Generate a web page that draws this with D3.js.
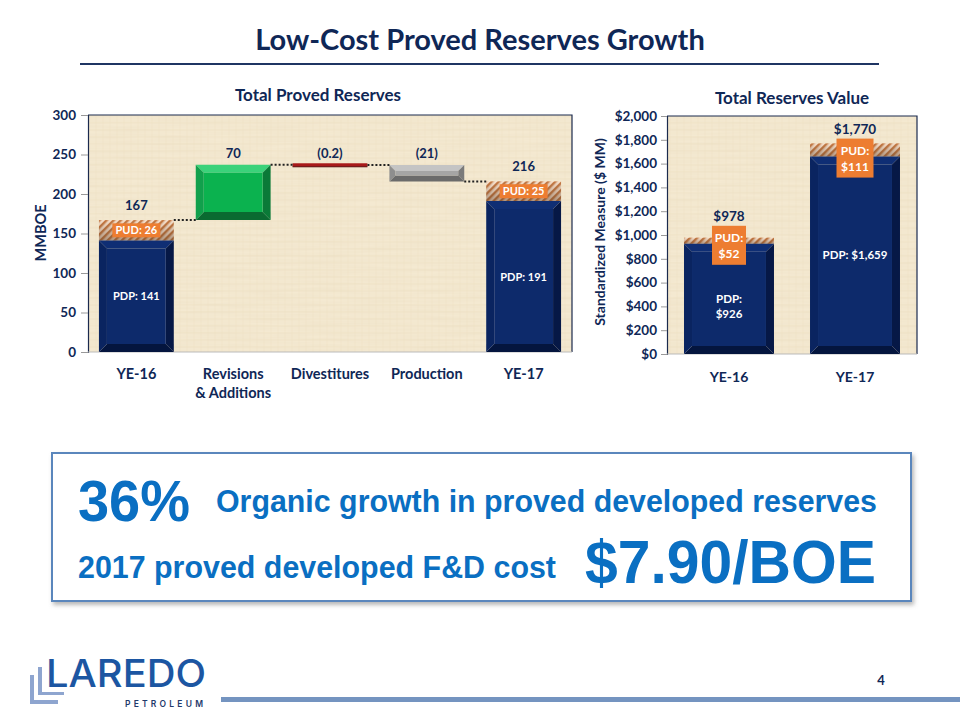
<!DOCTYPE html>
<html><head><meta charset="utf-8">
<script src="https://cdn.jsdelivr.net/npm/d3@7"></script>
<style>html,body{margin:0;padding:0;background:#fff;}svg{display:block;}</style>
</head><body>
<script>
// ---------------- DATA ----------------
const wfCategories = ["YE-16", "Revisions|& Additions", "Divestitures", "Production", "YE-17"];
const wfKinds = ["total", "up", "down", "down", "total"];
const wfPDP = [141, null, null, null, 191];
const wfPUD = [26, null, null, null, 25];
const wfChanges = [null, 70, -0.2, -21, null];
const wfValueLabels = ["167", "70", "(0.2)", "(21)", "216"];
const wfTicks = [0, 50, 100, 150, 200, 250, 300];

const valCategories = ["YE-16", "YE-17"];
const valPDP = [926, 1659];
const valPUD = [52, 111];
const valTotalLabels = ["$978", "$1,770"];
const valPDPLabels = [["PDP:", "$926"], ["PDP: $1,659"]];
const valPUDLabels = [["PUD:", "$52"], ["PUD:", "$111"]];
const valTicks = [0, 200, 400, 600, 800, 1000, 1200, 1400, 1600, 1800, 2000];

// ---------------- SETUP ----------------
const W = 960, H = 720;
const NAVY = "#0F2756";
const FONT = "Lato, 'Open Sans', sans-serif";
const svg = d3.select("body").append("svg").attr("width", W).attr("height", H)
  .style("font-family", FONT);
svg.append("rect").attr("width", W).attr("height", H).attr("fill", "#fff");

const defs = svg.append("defs");
// parchment texture
const tex = defs.append("pattern").attr("id", "tex").attr("patternUnits", "userSpaceOnUse")
  .attr("width", 14).attr("height", 14);
tex.append("rect").attr("width", 14).attr("height", 14).attr("fill", "#F4E9D1");
tex.append("path").attr("d", "M0 4H14M0 11H14").attr("stroke", "#E8D9B9").attr("stroke-width", 1).attr("opacity", 0.35);
tex.append("path").attr("d", "M5 0V14M12 0V14").attr("stroke", "#EADCC0").attr("stroke-width", 1).attr("opacity", 0.3);
const turb = defs.append("filter").attr("id", "grain").attr("x", 0).attr("y", 0).attr("width", "100%").attr("height", "100%");
turb.append("feTurbulence").attr("type", "fractalNoise").attr("baseFrequency", "0.02 0.35").attr("numOctaves", 2).attr("seed", 3);
turb.append("feColorMatrix").attr("type", "matrix")
  .attr("values", "0 0 0 0 0.72  0 0 0 0 0.62  0 0 0 0 0.42  0 0 0 0.22 -0.05");
// hatch pattern
const hatch = defs.append("pattern").attr("id", "hatch").attr("patternUnits", "userSpaceOnUse")
  .attr("width", 5).attr("height", 5).attr("patternTransform", "rotate(45)");
hatch.append("rect").attr("width", 5).attr("height", 5).attr("fill", "#F7E0CC");
hatch.append("rect").attr("width", 2.4).attr("height", 5).attr("fill", "#C57A45");
const hg = defs.append("linearGradient").attr("id", "hshade").attr("x1", 0).attr("y1", 0).attr("x2", 0).attr("y2", 1);
hg.append("stop").attr("offset", "0").attr("stop-color", "#5a3a20").attr("stop-opacity", 0);
hg.append("stop").attr("offset", "1").attr("stop-color", "#5a3a20").attr("stop-opacity", 0.45);
const shadow = defs.append("filter").attr("id", "shadow").attr("x", "-5%").attr("y", "-10%").attr("width", "110%").attr("height", "130%");
shadow.append("feDropShadow").attr("dx", 2).attr("dy", 3).attr("stdDeviation", 2).attr("flood-color", "#888").attr("flood-opacity", 0.6);

function bevel(g, x, y, w, h, c, b) {
  b = Math.min(b, h / 2, w / 2);
  const o = [[x, y], [x + w, y], [x + w, y + h], [x, y + h]];
  const i = [[x + b, y + b], [x + w - b, y + b], [x + w - b, y + h - b], [x + b, y + h - b]];
  const p = pts => "M" + pts.map(q => q.join(",")).join("L") + "Z";
  g.append("path").attr("d", p([o[0], o[1], i[1], i[0]])).attr("fill", c.top);
  g.append("path").attr("d", p([o[1], o[2], i[2], i[1]])).attr("fill", c.right);
  g.append("path").attr("d", p([o[2], o[3], i[3], i[2]])).attr("fill", c.bottom);
  g.append("path").attr("d", p([o[3], o[0], i[0], i[3]])).attr("fill", c.left);
  g.append("path").attr("d", p(i)).attr("fill", c.face);
}
const navyC = {face: "#0D2A6B", top: "#0F2E74", left: "#0A2460", right: "#061846", bottom: "#04153E"};
const greenC = {face: "#0BB24F", top: "#3BD27A", left: "#11A04C", right: "#0A7A38", bottom: "#0A6A31"};
const greyC = {face: "#A5A5A5", top: "#C4C4C4", left: "#8E8E8E", right: "#7A7A7A", bottom: "#6B6B6B"};

function plotBg(g, P) {
  g.append("rect").attr("x", P.l).attr("y", P.t).attr("width", P.r - P.l).attr("height", P.b - P.t).attr("fill", "url(#tex)");
  g.append("rect").attr("x", P.l).attr("y", P.t).attr("width", P.r - P.l).attr("height", P.b - P.t).attr("filter", "url(#grain)");
}

// ---------------- TITLE ----------------
svg.append("text").attr("x", 480).attr("y", 50).attr("text-anchor", "middle")
  .attr("font-size", 29).attr("font-weight", 700).attr("fill", NAVY).text("Low-Cost Proved Reserves Growth");
svg.append("line").attr("x1", 80).attr("x2", 879).attr("y1", 64).attr("y2", 64)
  .attr("stroke", "#1F3563").attr("stroke-width", 2);

// ---------------- LEFT: WATERFALL ----------------
const L = {l: 88, r: 572, t: 115, b: 352};
const yL = d3.scaleLinear().domain([0, 300]).range([L.b, L.t]);
const xL = d3.scaleBand().domain(wfCategories).range([L.l, L.r]).paddingInner(0.227).paddingOuter(0.113);
const gl = svg.append("g");
plotBg(gl, L);
gl.append("path").attr("d", `M${L.l},${L.t}H${L.r}V${L.b}`).attr("fill", "none").attr("stroke", "#1B2A4E").attr("stroke-width", 1.2);

const yAxL = d3.axisLeft(yL).tickValues(wfTicks).tickSize(7).tickPadding(5);
const yaL = gl.append("g").attr("transform", `translate(${L.l},0)`).call(yAxL);
yaL.select(".domain").attr("stroke", "#1B2A4E").attr("stroke-width", 1.2);
yaL.selectAll(".tick line").attr("stroke", "#999");
yaL.selectAll(".tick text").attr("font-size", 13.5).attr("font-weight", 700).attr("fill", NAVY).attr("font-family", FONT);
gl.append("line").attr("x1", L.l).attr("x2", L.r).attr("y1", L.b).attr("y2", L.b).attr("stroke", "#BBB").attr("stroke-width", 1.2);

// waterfall computation
let running = 0;
const wf = wfCategories.map((c, i) => {
  let lo, hi;
  if (wfKinds[i] === "total") {
    lo = 0; hi = wfPDP[i] + wfPUD[i]; running = hi;
  } else {
    const s = running, e = running + wfChanges[i];
    lo = Math.min(s, e); hi = Math.max(s, e); running = e;
  }
  return {c, i, lo, hi, kind: wfKinds[i]};
});
const bw = xL.bandwidth();
wf.forEach((d, i) => {
  const x = xL(d.c);
  if (d.kind === "total") {
    const yp = yL(wfPDP[i]), yt = yL(d.hi);
    gl.append("rect").attr("x", x).attr("y", yt).attr("width", bw).attr("height", yp - yt).attr("fill", "url(#hatch)");
    gl.append("rect").attr("x", x).attr("y", yt).attr("width", bw).attr("height", yp - yt).attr("fill", "url(#hshade)");
    bevel(gl, x, yp, bw, yL(0) - yp, navyC, 8);
    const mid = (yp + yt) / 2;
    gl.append("rect").attr("x", x + bw / 2 - 24).attr("y", mid - 7).attr("width", 48).attr("height", 14).attr("fill", "#ED7D31");
    gl.append("text").attr("x", x + bw / 2).attr("y", mid + 4).attr("text-anchor", "middle")
      .attr("font-size", 11).attr("font-weight", 700).attr("fill", "#fff").text("PUD: " + wfPUD[i]);
    gl.append("text").attr("x", x + bw / 2).attr("y", yL(wfPDP[i] / 2) + 4).attr("text-anchor", "middle")
      .attr("font-size", 11).attr("font-weight", 700).attr("fill", "#fff").text("PDP: " + wfPDP[i]);
  } else if (d.kind === "up") {
    bevel(gl, x, yL(d.hi), bw, yL(d.lo) - yL(d.hi), greenC, 8);
  } else if (Math.abs(yL(d.lo) - yL(d.hi)) < 3) {
    gl.append("rect").attr("x", x).attr("y", yL(d.hi) - 1.5).attr("width", bw).attr("height", 3.5).attr("fill", "#A81A1A");
    gl.append("line").attr("x1", x).attr("x2", x + bw).attr("y1", yL(d.hi) + 2).attr("y2", yL(d.hi) + 2).attr("stroke", "#5A0E0E").attr("stroke-width", 1);
  } else {
    bevel(gl, x, yL(d.hi), bw, yL(d.lo) - yL(d.hi), greyC, 6);
  }
  gl.append("text").attr("x", x + bw / 2).attr("y", yL(d.hi) - (d.kind === "total" ? 10 : 7))
    .attr("text-anchor", "middle").attr("font-size", 13).attr("font-weight", 700).attr("fill", NAVY)
    .text(wfValueLabels[i]);
});
// connectors
wf.forEach((d, i) => {
  if (i === wf.length - 1) return;
  const level = d.kind === "down" ? d.lo : d.hi;
  const x1 = xL(d.c) + bw, x2 = xL(wf[i + 1].c);
  gl.append("line").attr("x1", x1).attr("x2", x2).attr("y1", yL(level)).attr("y2", yL(level))
    .attr("stroke", "#222").attr("stroke-width", 2).attr("stroke-dasharray", "2,2");
});
// x labels
wfCategories.forEach(c => {
  c.split("|").forEach((t, k) => {
    gl.append("text").attr("x", xL(c) + bw / 2).attr("y", 379 + k * 19).attr("text-anchor", "middle")
      .attr("font-size", 14.5).attr("font-weight", 700).attr("fill", NAVY).text(t);
  });
});
gl.append("text").attr("transform", `translate(46,233) rotate(-90)`).attr("text-anchor", "middle")
  .attr("font-size", 14.5).attr("font-weight", 700).attr("fill", NAVY).text("MMBOE");
gl.append("text").attr("x", 318).attr("y", 101).attr("text-anchor", "middle")
  .attr("font-size", 17).attr("font-weight", 700).attr("fill", NAVY).text("Total Proved Reserves");

// ---------------- RIGHT: VALUE ----------------
const R = {l: 667, r: 917, t: 116, b: 354};
const yR = d3.scaleLinear().domain([0, 2000]).range([R.b, R.t]);
const xR = d3.scaleBand().domain(valCategories).range([R.l, R.r]).paddingInner(0.286).paddingOuter(0.135);
const gr = svg.append("g");
plotBg(gr, R);
gr.append("path").attr("d", `M${R.l},${R.t}H${R.r}V${R.b}`).attr("fill", "none").attr("stroke", "#1B2A4E").attr("stroke-width", 1.2);
const yAxR = d3.axisLeft(yR).tickValues(valTicks).tickSize(6).tickPadding(4).tickFormat(v => "$" + d3.format(",")(v));
const yaR = gr.append("g").attr("transform", `translate(${R.l},0)`).call(yAxR);
yaR.select(".domain").attr("stroke", "#1B2A4E").attr("stroke-width", 1.2);
yaR.selectAll(".tick line").attr("stroke", "#999");
yaR.selectAll(".tick text").attr("font-size", 13.5).attr("font-weight", 700).attr("fill", NAVY).attr("font-family", FONT);
gr.append("line").attr("x1", R.l).attr("x2", R.r).attr("y1", R.b).attr("y2", R.b).attr("stroke", "#BBB").attr("stroke-width", 1.2);

const bwR = xR.bandwidth();
valCategories.forEach((c, i) => {
  const x = xR(c), total = valPDP[i] + valPUD[i];
  const yp = yR(valPDP[i]), yt = yR(total);
  gr.append("rect").attr("x", x).attr("y", yt).attr("width", bwR).attr("height", yp - yt).attr("fill", "url(#hatch)");
  gr.append("rect").attr("x", x).attr("y", yt).attr("width", bwR).attr("height", yp - yt).attr("fill", "url(#hshade)");
  bevel(gr, x, yp, bwR, yR(0) - yp, navyC, 8);
  const bxTop = yp - 18, bxW = i === 0 ? 34 : 37;
  gr.append("rect").attr("x", x + bwR / 2 - bxW / 2).attr("y", bxTop).attr("width", bxW).attr("height", 39).attr("fill", "#ED7D31");
  valPUDLabels[i].forEach((t, k) => gr.append("text").attr("x", x + bwR / 2).attr("y", bxTop + 16 + k * 16)
    .attr("text-anchor", "middle").attr("font-size", 12).attr("font-weight", 700).attr("fill", "#fff").text(t));
  valPDPLabels[i].forEach((t, k) => gr.append("text").attr("x", x + bwR / 2).attr("y", yR(valPDP[i] / 2) + 4 + k * 15)
    .attr("text-anchor", "middle").attr("font-size", 11.5).attr("font-weight", 700).attr("fill", "#fff").text(t));
  gr.append("text").attr("x", x + bwR / 2).attr("y", Math.min(yt, bxTop) - 5).attr("text-anchor", "middle")
    .attr("font-size", 13.5).attr("font-weight", 700).attr("fill", NAVY).text(valTotalLabels[i]);
  gr.append("text").attr("x", x + bwR / 2).attr("y", 382).attr("text-anchor", "middle")
    .attr("font-size", 14).attr("font-weight", 700).attr("fill", NAVY).text(c);
});
gr.append("text").attr("transform", `translate(605,232) rotate(-90)`).attr("text-anchor", "middle")
  .attr("font-size", 14).attr("font-weight", 700).attr("fill", NAVY).text("Standardized Measure ($ MM)");
gr.append("text").attr("x", 792).attr("y", 104).attr("text-anchor", "middle")
  .attr("font-size", 17).attr("font-weight", 700).attr("fill", NAVY).text("Total Reserves Value");

// ---------------- CALLOUT BOX ----------------
const BLUE = "#0A6FC2";
const NARROW = "'Liberation Sans Narrow', 'Liberation Sans', Arial, sans-serif";
svg.append("rect").attr("x", 52).attr("y", 453).attr("width", 859).attr("height", 148)
  .attr("fill", "#fff").attr("stroke", "#5A86BC").attr("stroke-width", 2).attr("filter", "url(#shadow)");
const bt = (x, y, size, len, txt) => svg.append("text").attr("x", x).attr("y", y).attr("font-family", NARROW)
  .attr("font-size", size).attr("font-weight", 700).attr("fill", BLUE)
  .attr("textLength", len).attr("lengthAdjust", "spacingAndGlyphs").text(txt);
bt(78, 521, 58, 112, "36%");
bt(216, 512, 32, 661, "Organic growth in proved developed reserves");
bt(78, 578, 31, 478, "2017 proved developed F&D cost");
bt(585, 583, 62, 291, "$7.90/BOE");

// ---------------- FOOTER ----------------
const lg = svg.append("g");
lg.append("path").attr("d", "M30,675H34V700H58V704H30Z").attr("fill", "#8EA5CF");
lg.append("path").attr("d", "M38,667H42V692H64V695H38Z").attr("fill", "#8EA5CF");
lg.append("text").attr("x", 46).attr("y", 687).attr("font-family", "Inter, 'Noto Sans', sans-serif")
  .attr("font-size", 38).attr("font-weight", 500).attr("fill", "#1C56A2")
  .attr("textLength", 160).attr("lengthAdjust", "spacingAndGlyphs").text("LAREDO");
lg.append("text").attr("x", 125).attr("y", 707).attr("font-family", "Inter, 'Noto Sans', sans-serif")
  .attr("font-size", 8.5).attr("font-weight", 600).attr("fill", "#1F3A6B")
  .attr("textLength", 78).attr("lengthAdjust", "spacing").text("PETROLEUM");
svg.append("rect").attr("x", 221).attr("y", 697).attr("width", 739).attr("height", 5).attr("fill", "#7494C0");
svg.append("text").attr("x", 881).attr("y", 685).attr("text-anchor", "middle").attr("font-size", 13)
  .attr("font-weight", 700).attr("fill", NAVY).text("4");
</script>
</body></html>
